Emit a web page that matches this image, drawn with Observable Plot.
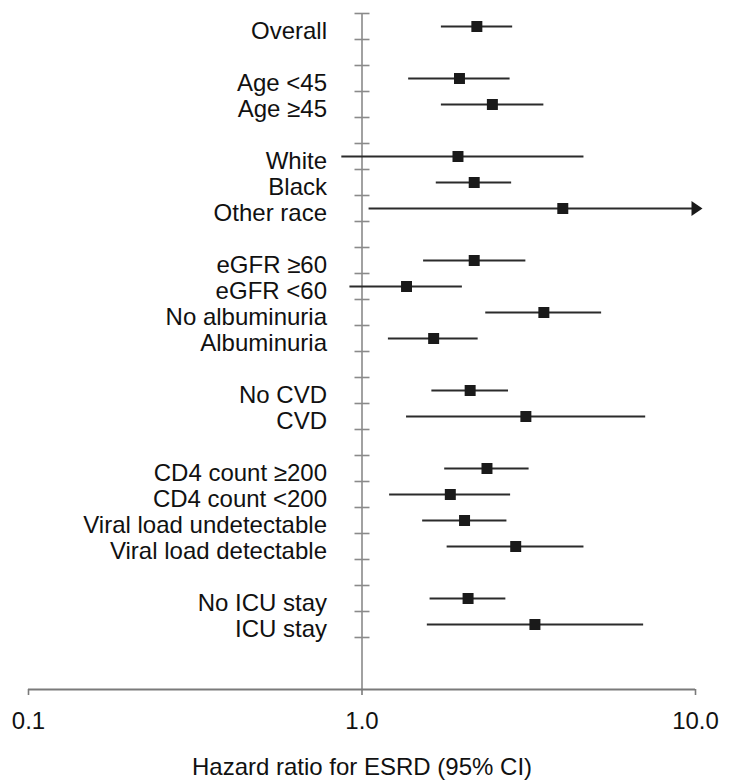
<!DOCTYPE html>
<html>
<head>
<meta charset="utf-8">
<script src="https://cdn.jsdelivr.net/npm/d3@7"></script>
<script src="https://cdn.jsdelivr.net/npm/@observablehq/plot@0.6"></script>
<style>
  html, body { margin: 0; padding: 0; background: #fff; }
  #chart { width: 729px; height: 782px; }
</style>
</head>
<body>
<div id="chart"></div>
<script>
// Subgroups (each group is separated by a blank row)
const groups = [
  ["Overall"],
  ["Age <45", "Age ≥45"],
  ["White", "Black", "Other race"],
  ["eGFR ≥60", "eGFR <60", "No albuminuria", "Albuminuria"],
  ["No CVD", "CVD"],
  ["CD4 count ≥200", "CD4 count <200", "Viral load undetectable", "Viral load detectable"],
  ["No ICU stay", "ICU stay"]
];
// Hazard ratios and 95% CI, in the same order as the labels above
const hr = [2.21, 1.96, 2.46, 1.94, 2.17, 4.00, 2.17, 1.36, 3.51, 1.64, 2.11, 3.10, 2.37, 1.84, 2.03, 2.89, 2.08, 3.30];
const lo = [1.73, 1.38, 1.73, 0.87, 1.67, 1.05, 1.53, 0.92, 2.35, 1.20, 1.62, 1.36, 1.77, 1.21, 1.52, 1.80, 1.60, 1.57];
const hi = [2.83, 2.78, 3.51, 4.63, 2.81, null, 3.10, 2.00, 5.23, 2.23, 2.75, 7.09, 3.17, 2.79, 2.72, 4.63, 2.70, 6.99]; // null = beyond axis (arrow)
const xTicks = [0.1, 1, 10];
const xDomain = [0.1, 10];
const refValue = 1;
const xLabel = "Hazard ratio for ESRD (95% CI)";

// Build row table: a blank row after each group
const rows = [];
let r = 0, i = 0;
for (const g of groups) {
  for (const label of g) {
    rows.push({label, row: r, hr: hr[i], lo: lo[i], hi: hi[i]});
    r++; i++;
  }
  r++; // blank row
}
const nRows = r;
const boundaries = d3.range(nRows + 1).map(k => k - 0.5);
const xMax = xDomain[1];

const hline = {draw(ctx) { ctx.moveTo(-7.5, 0); ctx.lineTo(7.5, 0); }};
const arrowRight = {draw(ctx) { ctx.moveTo(-4, -7.5); ctx.lineTo(7, 0); ctx.lineTo(-4, 7.5); ctx.closePath(); }};

const font = "'Liberation Sans', Arial, Helvetica, sans-serif";

const chart = Plot.plot({
  width: 729,
  height: 782,
  marginTop: 13,
  marginBottom: 93,
  marginLeft: 28,
  marginRight: 34,
  style: {fontFamily: font, fontSize: "24px", background: "white", color: "#111"},
  x: {type: "log", domain: xDomain},
  y: {domain: [-0.5, nRows + 0.5], reverse: true, axis: null},
  marks: [
    // reference line at HR = 1 with row separator ticks
    Plot.ruleX([refValue], {y1: -0.5, y2: nRows + 0.5, stroke: "#8a8a8a", strokeWidth: 1.6}),
    Plot.dot(boundaries.slice(0, -1), {x: () => refValue, y: d => d, symbol: hline, stroke: "#8a8a8a", strokeWidth: 1.6, r: 5}),
    // x axis line
    Plot.ruleY([nRows + 0.5], {x1: xDomain[0], x2: xDomain[1], stroke: "#7a7a7a", strokeWidth: 2}),
    Plot.axisX({ticks: xTicks, tickFormat: d3.format(".1f"), tickSize: 6, tickPadding: 16, stroke: "#7a7a7a", strokeWidth: 1.6, fill: "#111", fontSize: 24, label: null}),
    // confidence intervals
    Plot.ruleY(rows, {y: "row", x1: "lo", x2: d => d.hi == null ? xMax : d.hi, stroke: "#2b2b2b", strokeWidth: 1.8}),
    Plot.dot(rows.filter(d => d.hi == null), {x: () => xMax, y: "row", symbol: arrowRight, fill: "#1a1a1a", r: 5}),
    // point estimates
    Plot.dot(rows, {x: "hr", y: "row", symbol: "square", r: 6.2, fill: "#1a1a1a"}),
    // labels
    Plot.text(rows, {x: () => refValue, y: "row", text: "label", textAnchor: "end", dx: -35, dy: 4.5, fontSize: 24, fill: "#111"}),
    Plot.text([xLabel], {frameAnchor: "bottom", lineAnchor: "middle", dy: 78, fontSize: 24, fill: "#111"})
  ]
});
document.getElementById("chart").appendChild(chart);
</script>
</body>
</html>
